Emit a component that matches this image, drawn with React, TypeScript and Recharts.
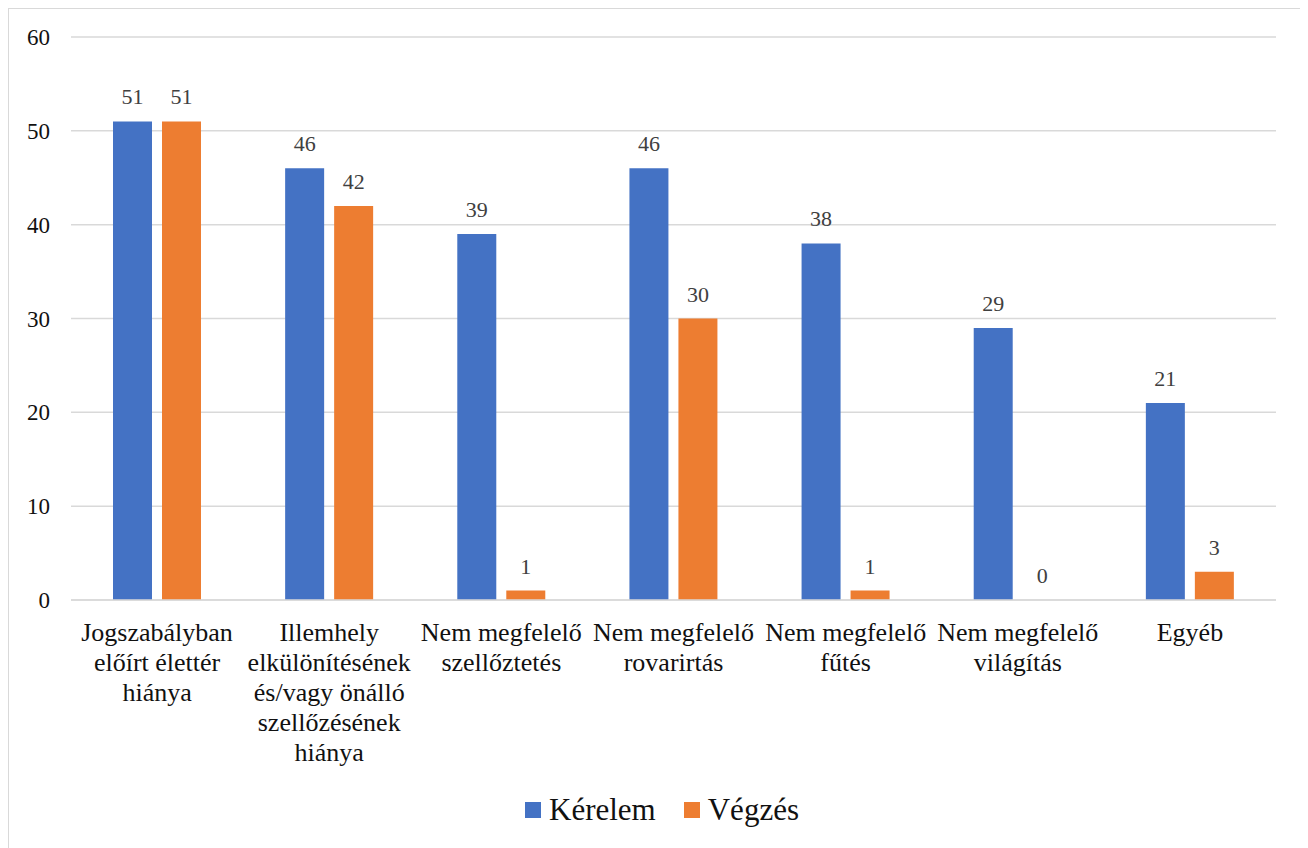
import React from 'react';
import { BarChart, Bar, XAxis, YAxis, CartesianGrid, Legend, LabelList } from 'recharts';

const FONT = '"Liberation Serif", "Times New Roman", serif';

const categories = [
    'Jogszabályban\nelőírt élettér\nhiánya',
    'Illemhely\nelkülönítésének\nés/vagy önálló\nszellőzésének\nhiánya',
    'Nem megfelelő\nszellőztetés',
    'Nem megfelelő\nrovarirtás',
    'Nem megfelelő\nfűtés',
    'Nem megfelelő\nvilágítás',
    'Egyéb',
];
const kerelem = [51, 46, 39, 46, 38, 29, 21];
const vegzes = [51, 42, 1, 30, 1, 0, 3];
const yTicks = [0, 10, 20, 30, 40, 50, 60];

const series = [
    { key: 'kerelem', name: 'Kérelem', color: '#4472C4' },
    { key: 'vegzes', name: 'Végzés', color: '#ED7D31' },
];

const data = categories.map((name, i) => ({
    name,
    kerelem: kerelem[i],
    vegzes: vegzes[i],
}));

// multi-line category names under the bars
const CategoryTick = (props: any) => {
    const { x, y, payload } = props;
    const lines = String(payload.value).split('\n');
    return (
        <text x={x} y={y} textAnchor="middle" fill="#111" fontSize={26} style={{ fontFamily: FONT }}>
            {lines.map((line, i) => (
                <tspan key={i} x={x} dy={i === 0 ? 41 : 30}>
                    {line}
                </tspan>
            ))}
        </text>
    );
};

const ValueTick = (props: any) => {
    const { x, y, payload } = props;
    return (
        <text x={x} y={y} dy={8} textAnchor="end" fill="#111" fontSize={23} style={{ fontFamily: FONT }}>
            {payload.value}
        </text>
    );
};

const renderLegend = () => (
    <div style={{ display: 'flex', justifyContent: 'center', alignItems: 'center', paddingLeft: 12 }}>
        {series.map((s, i) => (
            <div key={s.key} style={{ display: 'flex', alignItems: 'center', marginLeft: i === 0 ? 0 : 28 }}>
                <span style={{ width: 16, height: 16, background: s.color, display: 'inline-block', marginRight: 8 }} />
                <span style={{ fontFamily: FONT, fontSize: 31, color: '#111', lineHeight: '38px' }}>{s.name}</span>
            </div>
        ))}
    </div>
);

export default function App() {
    return (
        <div
            style={{
                width: 1296,
                height: 850,
                border: '1px solid #d9d9d9',
                boxSizing: 'border-box',
                background: '#fff',
                fontFamily: FONT,
            }}
        >
            <BarChart
                width={1294}
                height={839}
                data={data}
                margin={{ top: 28, right: 27, left: 0, bottom: 0 }}
                barSize={39}
                barGap={10}
            >
                <CartesianGrid vertical={false} stroke="#d9d9d9" strokeWidth={1.5} />
                <XAxis
                    dataKey="name"
                    height={248}
                    interval={0}
                    tickLine={false}
                    tickSize={0}
                    tickMargin={0}
                    axisLine={{ stroke: '#d9d9d9', strokeWidth: 1.5 }}
                    tick={<CategoryTick />}
                />
                <YAxis
                    width={62}
                    domain={[0, 60]}
                    ticks={yTicks}
                    axisLine={false}
                    tickLine={false}
                    tickMargin={15}
                    tick={<ValueTick />}
                />
                <Legend
                    verticalAlign="middle"
                    align="center"
                    layout="horizontal"
                    content={renderLegend}
                    wrapperStyle={{ top: 782, left: 0, width: 1294 }}
                />
                {series.map((s) => (
                    // tiny minPointSize keeps zero-valued bars (and their labels) in the list
                    <Bar
                        key={s.key}
                        dataKey={s.key}
                        name={s.name}
                        fill={s.color}
                        minPointSize={0.01}
                        isAnimationActive={false}
                    >
                        <LabelList
                            dataKey={s.key}
                            position="top"
                            offset={17}
                            fill="#404040"
                            fontSize={22}
                            style={{ fontFamily: FONT }}
                        />
                    </Bar>
                ))}
            </BarChart>
        </div>
    );
}
